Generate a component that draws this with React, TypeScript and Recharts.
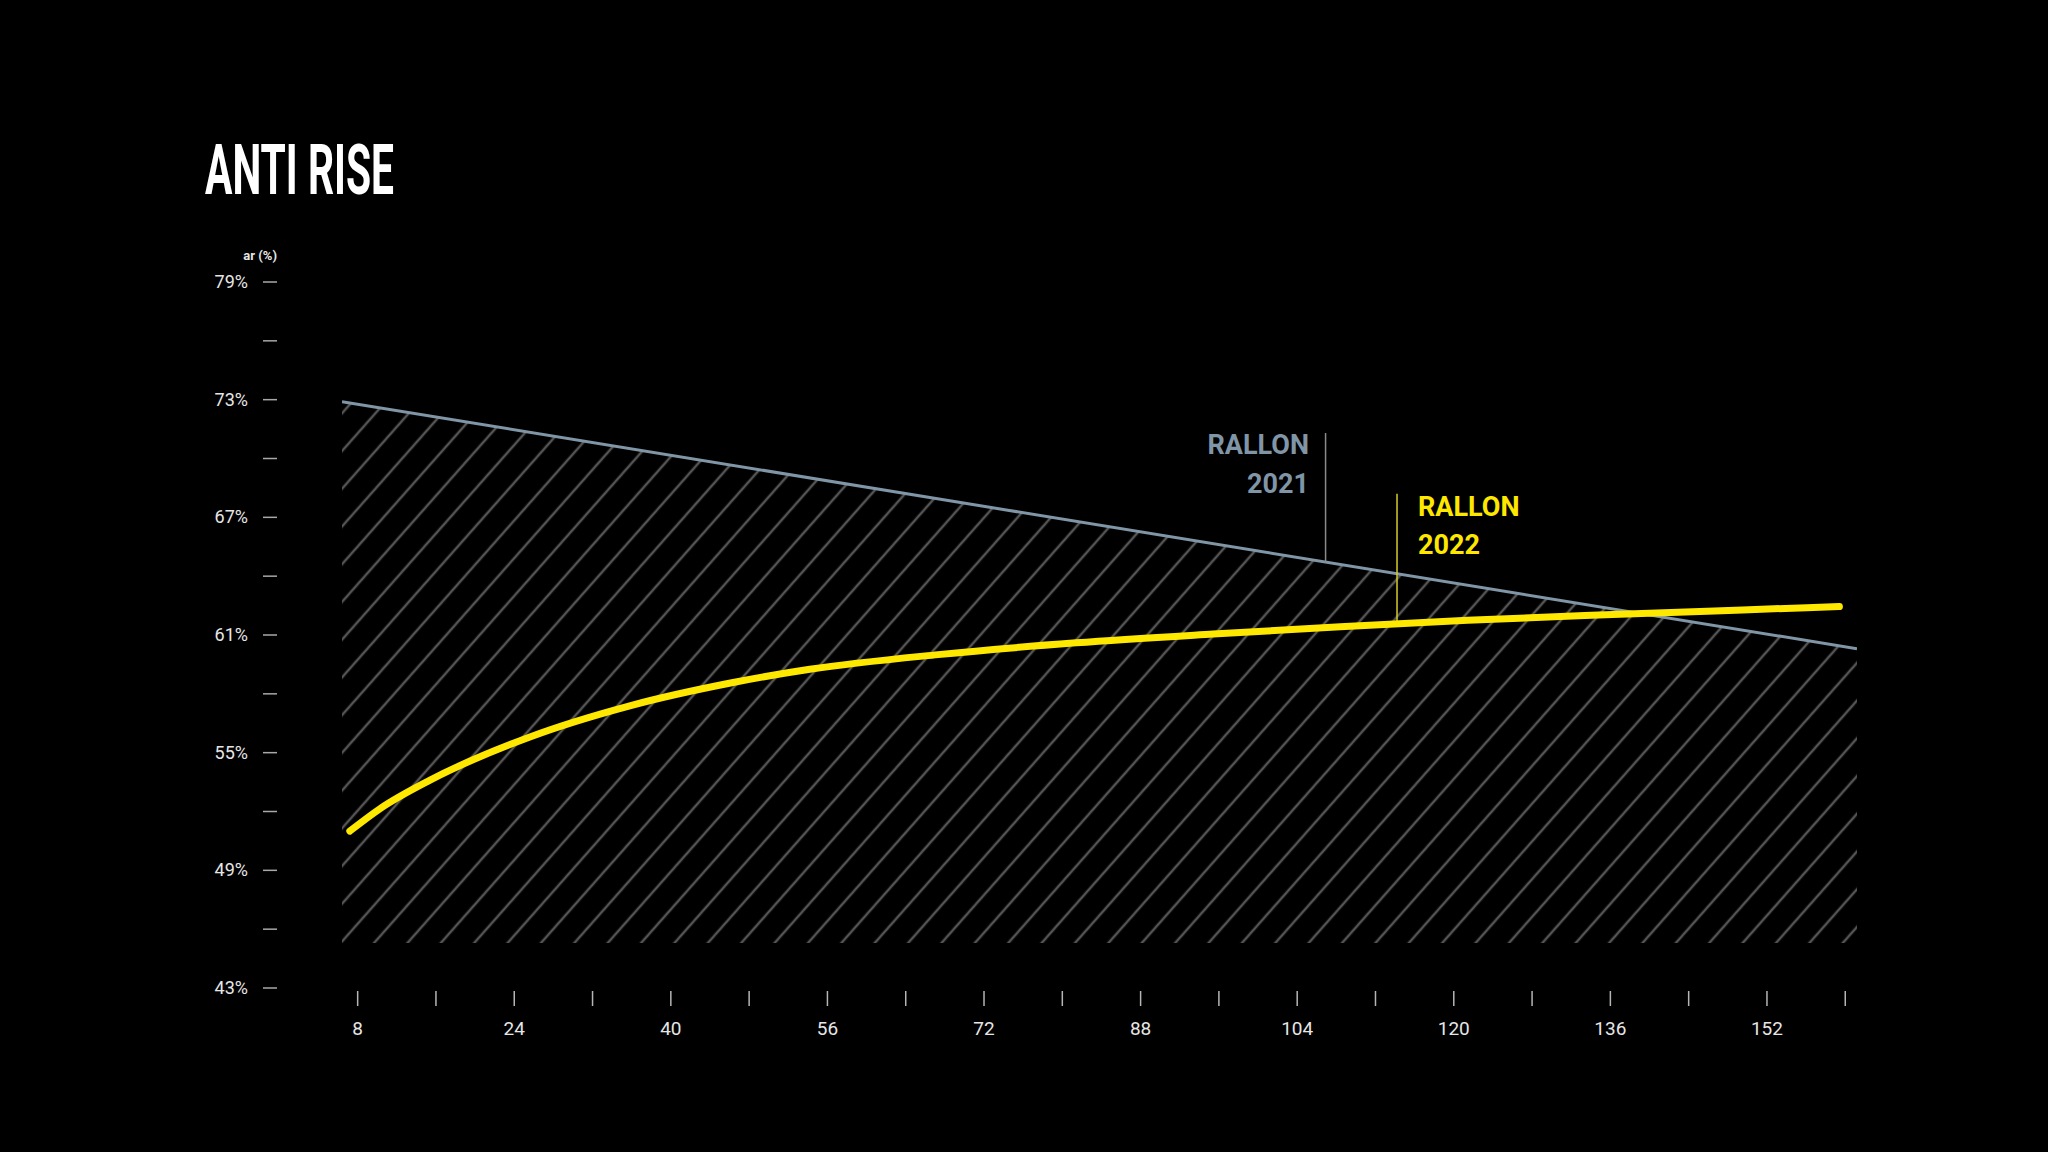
import React from 'react';
import {
    ComposedChart,
    Area,
    Line,
    XAxis,
    YAxis,
    ReferenceLine,
} from 'recharts';

// x positions (months) and values
const rallon2021X = [6.4, 161.2];
const rallon2021Values = [72.9, 60.3];

const rallon2022X = [7.2, 10.3, 15.4, 25.6, 35.9, 46.1, 54.2, 67.3, 81.4, 95.4, 108.4, 121.4, 135.5, 149.5, 159.4];
const rallon2022Values = [51.0, 52.15, 53.6, 55.8, 57.4, 58.55, 59.25, 60.0, 60.6, 61.05, 61.42, 61.75, 62.03, 62.28, 62.45];

const xTicks = [8, 16, 24, 32, 40, 48, 56, 64, 72, 80, 88, 96, 104, 112, 120, 128, 136, 144, 152, 160];
const xLabelTicks = [8, 24, 40, 56, 72, 88, 104, 120, 136, 152];
const yTicks = [43, 46, 49, 52, 55, 58, 61, 64, 67, 70, 73, 76, 79];
const yLabelTicks = [43, 49, 55, 61, 67, 73, 79];

const hatchBase = 45.3;

const GREY = '#8096a7';
const YELLOW = '#ffe800';
const FONT = 'Roboto, "Liberation Sans", sans-serif';

const greyData = rallon2021X.map((x, i) => ({ x, v: rallon2021Values[i] }));
const yellowData = rallon2022X.map((x, i) => ({ x, v: rallon2022Values[i] }));

const XTick = (props: any) => {
    const { x, payload } = props;
    const v = payload.value;
    return (
        <g>
            <line x1={x} x2={x} y1={991} y2={1006} stroke="#b5b5b5" strokeWidth={1.5} />
            {xLabelTicks.includes(v) && (
                <text x={x} y={1035} textAnchor="middle" fill="#e6e6e6" fontSize={19} fontFamily={FONT}>
                    {v}
                </text>
            )}
        </g>
    );
};

const YTick = (props: any) => {
    const { y, payload } = props;
    const v = payload.value;
    return (
        <g>
            <line x1={263} x2={277} y1={y} y2={y} stroke="#a8a8a8" strokeWidth={1.5} />
            {yLabelTicks.includes(v) && (
                <text x={248} y={y + 6} textAnchor="end" fill="#e6e6e6" fontSize={18} fontFamily={FONT}>
                    {v}%
                </text>
            )}
        </g>
    );
};

export default function App() {
    return (
        <div style={{ position: 'absolute', left: 0, top: 0, width: 2048, height: 1152, background: '#000', overflow: 'hidden' }}>
            <ComposedChart width={2048} height={1152} margin={{ top: 282, right: 191, bottom: 64, left: 2 }}>
                <defs>
                    <pattern id="hatch" patternUnits="userSpaceOnUse" width={25} height={25} patternTransform="rotate(41.5)">
                        <line x1={5} y1={0} x2={5} y2={25} stroke="#555555" strokeWidth={2.5} />
                    </pattern>
                </defs>
                <XAxis
                    type="number"
                    dataKey="x"
                    domain={[6.4, 161.2]}
                    ticks={xTicks}
                    interval={0}
                    height={100}
                    axisLine={false}
                    tickLine={false}
                    tick={<XTick />}
                    allowDataOverflow
                />
                <YAxis
                    type="number"
                    domain={[43, 79]}
                    ticks={yTicks}
                    interval={0}
                    width={340}
                    axisLine={false}
                    tickLine={false}
                    tick={<YTick />}
                    allowDataOverflow
                />
                <Area
                    data={greyData}
                    dataKey="v"
                    type="linear"
                    baseValue={hatchBase}
                    stroke={GREY}
                    strokeWidth={3}
                    fill="url(#hatch)"
                    fillOpacity={1}
                    isAnimationActive={false}
                    dot={false}
                    activeDot={false}
                />
                <ReferenceLine
                    segment={[{ x: 106.9, y: 71.3 }, { x: 106.9, y: 64.7 }]}
                    stroke="#8a8a8a"
                    strokeWidth={1.5}
                />
                <ReferenceLine
                    segment={[{ x: 114.2, y: 68.2 }, { x: 114.2, y: 61.6 }]}
                    stroke="#d8cb2a"
                    strokeWidth={1.5}
                />
                <Line
                    data={yellowData}
                    dataKey="v"
                    type="monotone"
                    stroke={YELLOW}
                    strokeWidth={7}
                    strokeLinecap="round"
                    dot={false}
                    activeDot={false}
                    isAnimationActive={false}
                />
            </ComposedChart>
            <svg width={2048} height={1152} style={{ position: 'absolute', left: 0, top: 0, pointerEvents: 'none' }}>
                <text x={205} y={194} fill="#fff" fontSize={71} fontWeight={700} fontFamily={FONT} textLength={189} lengthAdjust="spacingAndGlyphs">
                    ANTI RISE
                </text>
                <text x={277} y={260} textAnchor="end" fill="#e6e6e6" fontSize={13} fontWeight={700} fontFamily={FONT}>
                    ar (%)
                </text>
                <text x={1309} y={454} textAnchor="end" fill={GREY} fontSize={27} fontWeight={700} fontFamily={FONT}>
                    RALLON
                </text>
                <text x={1309} y={493} textAnchor="end" fill={GREY} fontSize={27} fontWeight={700} fontFamily={FONT}>
                    2021
                </text>
                <text x={1418} y={516} fill={YELLOW} fontSize={27} fontWeight={700} fontFamily={FONT}>
                    RALLON
                </text>
                <text x={1418} y={554} fill={YELLOW} fontSize={27} fontWeight={700} fontFamily={FONT}>
                    2022
                </text>
            </svg>
        </div>
    );
}
